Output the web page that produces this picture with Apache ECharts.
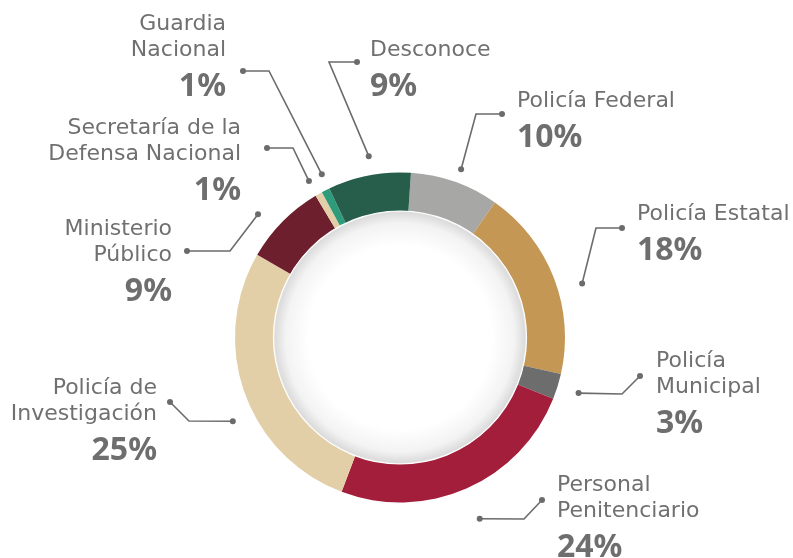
<!DOCTYPE html>
<html>
<head>
<meta charset="utf-8">
<script src="https://cdn.jsdelivr.net/npm/echarts@6/dist/echarts.min.js"></script>
<style>
  html,body{margin:0;padding:0;background:#fff;}
  #chart{width:793px;height:558px;}
</style>
</head>
<body>
<div id="chart"></div>
<script>
// categories, clockwise from the top of the ring
const categories = [
    'Policía Federal',
    'Policía Estatal',
    'Policía\nMunicipal',
    'Personal\nPenitenciario',
    'Policía de\nInvestigación',
    'Ministerio\nPúblico',
    'Secretaría de la\nDefensa Nacional',
    'Guardia\nNacional',
    'Desconoce'
]
// arc shares as drawn in the ring (%)
const arcShares = [8.7, 18.8, 2.5, 24.7, 27.6, 8.1, 0.7, 0.8, 8.1]
// percentages printed next to each slice
const shownPct = [10, 18, 3, 24, 25, 9, 1, 1, 9]
const sliceColors = ['#a7a7a5', '#c49755', '#6d6d6d', '#a31e3a', '#e3cfa7', '#6e1f2e', '#e3cfa7', '#2e9b7a', '#265e4b']

const CX = 400, CY = 337.5
const START = 86.2

// label anchor + leader line layout (pixels), same order as categories
const layout = [
    { x: 517, y: 88,  align: 'left',  r: 179, da: 0.5, corner: [476, 114], dot: [502, 114] },
    { x: 637, y: 201, align: 'left',  r: 190, da: 4.5, corner: [596, 228], dot: [622, 228] },
    { x: 656, y: 348, align: 'left',  r: 187, da: 0,   corner: [622, 394], dot: [640, 376] },
    { x: 557, y: 472, align: 'left',  r: 198, da: 0,   corner: [524, 519], dot: [542, 500] },
    { x: 157, y: 375, align: 'right', r: 187, da: -7,  corner: [189, 421], dot: [170, 402] },
    { x: 172, y: 216, align: 'right', r: 188, da: -3.7,corner: [230, 251], dot: [187, 251] },
    { x: 241, y: 115, align: 'right', r: 181, da: -0.7,corner: [293, 148], dot: [267, 148] },
    { x: 226, y: 11,  align: 'right', r: 181, da: 1.2, corner: [269, 71],  dot: [243, 71] },
    { x: 370, y: 37,  align: 'left',  r: 184, da: 1,   corner: [329, 62],  dot: [357, 62] }
]

const total = arcShares.reduce((a, b) => a + b, 0)
function midAngle(i) {
    let before = 0
    for (let k = 0; k < i; k++) before += arcShares[k]
    return (90 - START) + (before + arcShares[i] / 2) / total * 360
}

const chart = echarts.init(document.getElementById('chart'))

const option = {
    animation: false,
    series: [
        {
            type: 'pie',
            center: [CX, CY],
            radius: [126, 165],
            startAngle: START,
            clockwise: true,
            silent: true,
            label: {
                show: true,
                position: 'outer',
                overflow: 'none',
                formatter: (p) => p.name.split('\n').map(s => '{n|' + s + '}').join('\n') + '\n{p|' + shownPct[p.dataIndex] + '%}',
                rich: {
                    n: {
                        fontFamily: 'DejaVu Sans',
                        fontSize: 22,
                        color: '#707070',
                        lineHeight: 26
                    },
                    p: {
                        fontFamily: 'Noto Sans',
                        fontWeight: 'bold',
                        fontSize: 32,
                        color: '#6e6e6e',
                        lineHeight: 48
                    }
                }
            },
            labelLine: { show: false },
            labelLayout: (params) => {
                const l = layout[params.dataIndex]
                return { x: l.x, y: l.y, align: l.align, verticalAlign: 'top' }
            },
            data: categories.map((name, i) => ({
                name: name,
                value: arcShares[i],
                itemStyle: { color: sliceColors[i] }
            }))
        },
        {
            // white disc in the hole
            type: 'pie',
            center: [CX, CY],
            radius: [0, 126.5],
            silent: true,
            label: { show: false },
            labelLine: { show: false },
            itemStyle: {
                borderColor: '#ffffff',
                borderWidth: 1.2,
                color: {
                    type: 'radial', x: 0.5, y: 0.5, r: 0.5,
                    colorStops: [
                        { offset: 0, color: '#ffffff' },
                        { offset: 0.72, color: '#ffffff' },
                        { offset: 0.9, color: '#f3f3f3' },
                        { offset: 0.98, color: '#dcdcdc' },
                        { offset: 1, color: '#e8e8e8' }
                    ]
                }
            },
            data: [1]
        },
        {
            // leader lines with dots
            type: 'custom',
            coordinateSystem: 'none',
            silent: true,
            data: arcShares,
            renderItem: (params) => {
                const i = params.dataIndex
                const l = layout[i]
                const a = (midAngle(i) + l.da) * Math.PI / 180
                const p0 = [CX + l.r * Math.sin(a), CY - l.r * Math.cos(a)]
                const style = { stroke: '#6b6b6b', lineWidth: 1.6, fill: null }
                return {
                    type: 'group',
                    children: [
                        { type: 'polyline', shape: { points: [p0, l.corner, l.dot] }, style: style },
                        { type: 'circle', shape: { cx: p0[0], cy: p0[1], r: 3 }, style: { fill: '#6b6b6b' } },
                        { type: 'circle', shape: { cx: l.dot[0], cy: l.dot[1], r: 3 }, style: { fill: '#6b6b6b' } }
                    ]
                }
            }
        }
    ]
}

chart.setOption(option)
</script>
</body>
</html>
